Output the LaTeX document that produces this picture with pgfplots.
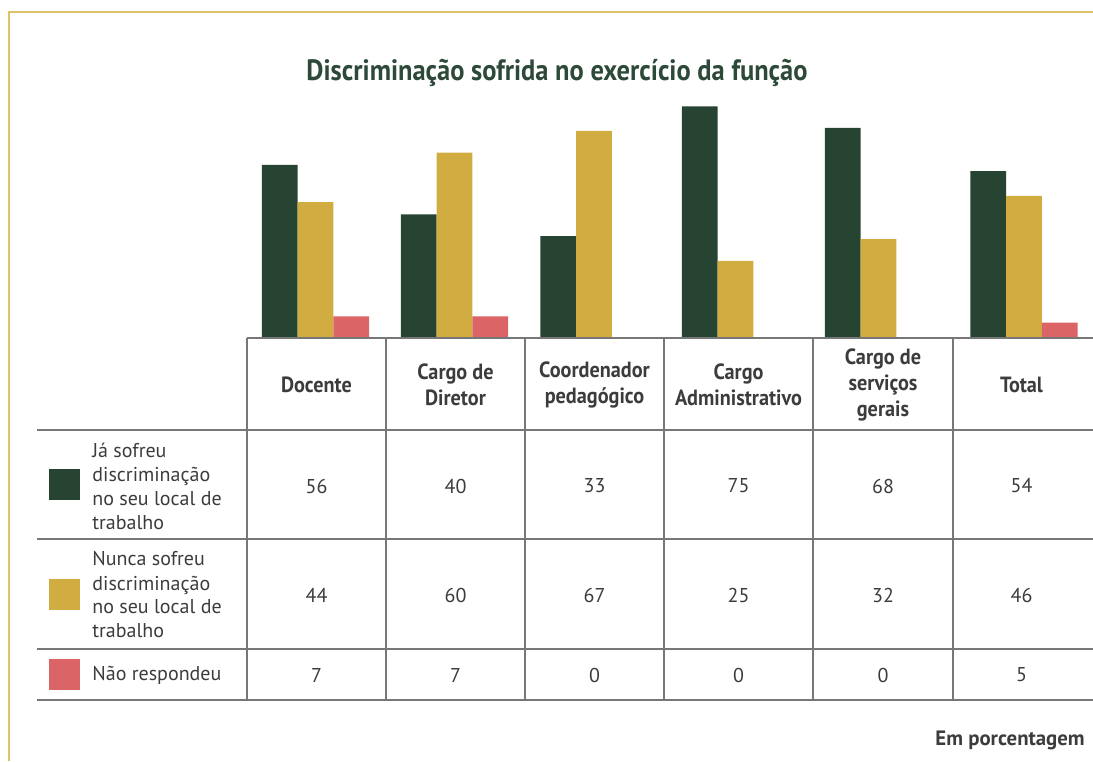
\documentclass[border=0pt]{standalone}
\usepackage{pgfplots}
\pgfplotsset{compat=1.18}
\usepackage{pgfplotstable}
\usepackage{fontspec}
\setmainfont{PT Sans}
\newfontfamily\condfont{PT Sans}[FakeStretch=0.92]
\newfontfamily\titlefont{PT Sans}[FakeStretch=0.9]
\definecolor{dkgreen}{HTML}{274432}
\definecolor{gold}{HTML}{D1AC40}
\definecolor{rosered}{HTML}{DB6466}
\definecolor{titlegreen}{HTML}{2D4A38}
\definecolor{txt}{HTML}{3C3C3C}
\definecolor{gridc}{HTML}{777777}
\definecolor{framec}{HTML}{DCC36A}

\pgfplotstableread{
x      ja  nunca  nao
315.5  56  44     7
454.5  40  60     7
594    33  67     0
735.5  75  25     0
878.5  68  32     0
1024   54  46     5
}\discdata

\begin{document}
\begin{tikzpicture}
\begin{axis}[
  at={(0pt,-169pt)}, anchor=south west,
  x=0.5pt, y=1.545pt,
  xmin=0, xmax=1093, ymin=0, ymax=80,
  hide axis, clip=false,
  ybar, bar width=35.7,
]
\addplot[fill=dkgreen, draw=none, bar shift=-35.7] table[x=x, y=ja] {\discdata};
\addplot[fill=gold, draw=none, bar shift=0] table[x=x, y=nunca] {\discdata};
\addplot[fill=rosered, draw=none, bar shift=35.7] table[x=x, y=nao] {\discdata};
\end{axis}

\begin{scope}[x=0.5pt, y=-0.5pt]
  % frame
  \draw[framec, line width=0.75pt] (9,761) -- (9,12) -- (1093,12);
  % title
  \node[anchor=base, inner sep=0pt, text=titlegreen,
        font=\titlefont\bfseries\fontsize{14.7}{17}\selectfont]
        at (557,80) {Discriminação sofrida no exercício da função};
  % table lines
  \draw[gridc, line width=0.8pt] (247,338) -- (1093,338);
  \foreach \yy in {430,539,649,700} {
    \draw[gridc, line width=0.8pt] (37,\yy) -- (1093,\yy);
  }
  \foreach \xx in {247,386,525,664,813,953} {
    \draw[gridc, line width=0.8pt] (\xx,338) -- (\xx,700);
  }
  % headers
  \tikzset{hdr/.style={inner sep=0pt, align=center, text=txt,
     font=\condfont\bfseries\fontsize{11}{13}\selectfont}}
  \node[hdr] at (316.5,385) {Docente};
  \node[hdr] at (455.5,385) {Cargo de\\Diretor};
  \node[hdr] at (594.5,385) {Coordenador\\pedagógico};
  \node[hdr] at (738.5,385) {Cargo\\Administrativo};
  \node[hdr] at (883,385) {Cargo de\\serviços\\gerais};
  \node[hdr] at (1021.5,385) {Total};
  % legend squares
  \fill[dkgreen] (49,469) rectangle (80,500);
  \fill[gold] (49,579) rectangle (80,610);
  \fill[rosered] (49,659) rectangle (80,690);
  % row labels
  \tikzset{lbl/.style={inner sep=0pt, anchor=west, align=left, text=txt,
     font=\fontsize{10}{12}\selectfont}}
  \node[lbl] at (92,486) {Já sofreu\\discriminação\\no seu local de\\trabalho};
  \node[lbl] at (92,595) {Nunca sofreu\\discriminação\\no seu local de\\trabalho};
  \node[lbl] at (92,675) {Não respondeu};
  % values
  \tikzset{val/.style={inner sep=0pt, text=txt, font=\fontsize{10}{12}\selectfont}}
  \foreach \cx/\a/\b/\c in {316.5/56/44/7, 455.5/40/60/7, 594.5/33/67/0,
                            738.5/75/25/0, 883/68/32/0, 1021.5/54/46/5} {
    \node[val] at (\cx,486) {\a};
    \node[val] at (\cx,595) {\b};
    \node[val] at (\cx,675) {\c};
  }
  % note
  \node[anchor=base east, inner sep=0pt, text=txt,
        font=\bfseries\fontsize{10.4}{12}\selectfont]
        at (1085,745) {Em porcentagem};
\end{scope}
\pgfresetboundingbox
\path[use as bounding box] (0pt,0pt) rectangle (546.5pt,-380.5pt);
\end{tikzpicture}
\end{document}
